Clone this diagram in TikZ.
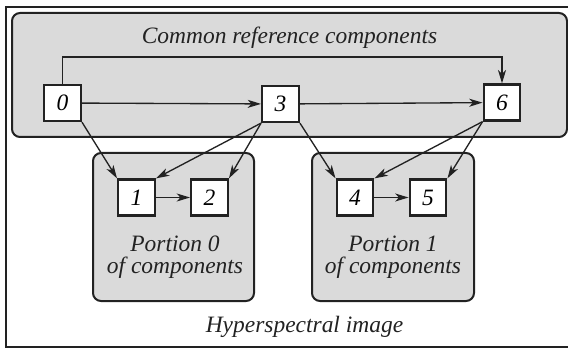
\documentclass[tikz,border=0pt]{standalone}
\usepackage{fontspec}
\setmainfont{Liberation Serif}
\usetikzlibrary{arrows.meta}
\definecolor{panelgray}{RGB}{218,218,218}
\definecolor{ink}{RGB}{34,34,34}
\tikzset{
  numbox/.style={draw=ink, fill=white, line width=1.7pt, minimum width=27.5pt, minimum height=27pt,
    inner sep=0pt, font=\fontsize{17.6}{20}\selectfont\itshape},
  panel/.style={draw=ink, fill=panelgray, line width=1.5pt, rounded corners=6pt, inner sep=0pt},
  lbl/.style={font=\fontsize{17.6}{16.5}\selectfont\itshape, inner sep=0pt, align=center, text=ink},
  arr/.style={draw=ink, line width=1pt, -{Stealth[length=10pt, width=6pt, inset=2.8pt]}},
}
\begin{document}
\begin{tikzpicture}[x=0.75pt, y=-0.75pt]
\useasboundingbox (0,0) rectangle (568,349);
\clip (0,0) rectangle (568,349);
% outer frame
\draw[ink, line width=1.2pt] (6,7) rectangle (590,347);
% panels
\node[panel, minimum width=416.25pt, minimum height=93pt] (common) at (289.5,75) {};
\node[panel, minimum width=120.75pt, minimum height=111pt] (p0) at (173.5,227) {};
\node[panel, minimum width=121.5pt, minimum height=111pt] (p1) at (393,227) {};
% labels
\node[lbl, anchor=base] (tcommon) at (289.5,44) {Common reference components};
\node[lbl, anchor=base] (tp0) at (175,273) {Portion 0\\of components};
\node[lbl, anchor=base] (tp1) at (393,273) {Portion 1\\of components};
\node[lbl, anchor=base] (thyper) at (304.5,332) {Hyperspectral image};
% number boxes
\node[numbox] (n0) at (62.5,103) {0};
\node[numbox] (n3) at (280.5,104) {3};
\node[numbox] (n6) at (502,102.5) {6};
\node[numbox] (n1) at (136.5,197.5) {1};
\node[numbox] (n2) at (209.5,197.5) {2};
\node[numbox] (n4) at (355,197.5) {4};
\node[numbox] (n5) at (428,197.5) {5};
\coordinate (toprow) at (0,57);
% connectors
\draw[arr] (n0) -- (n3);
\draw[arr] (n3) -- (n6);
\draw[arr] (n0.north) -- (n0.north |- toprow) -| (n6.north);
\draw[arr] (n0.south east) -- (n1.north west);
\draw[arr] (n3.south west) -- (n1.north east);
\draw[arr] (n3.south west) -- (n2.north east);
\draw[arr] (n3.south east) -- (n4.north west);
\draw[arr] (n6.south west) -- (n4.north east);
\draw[arr] (n6.south west) -- (n5.north east);
\draw[arr] (n1) -- (n2);
\draw[arr] (n4) -- (n5);
\end{tikzpicture}
\end{document}
